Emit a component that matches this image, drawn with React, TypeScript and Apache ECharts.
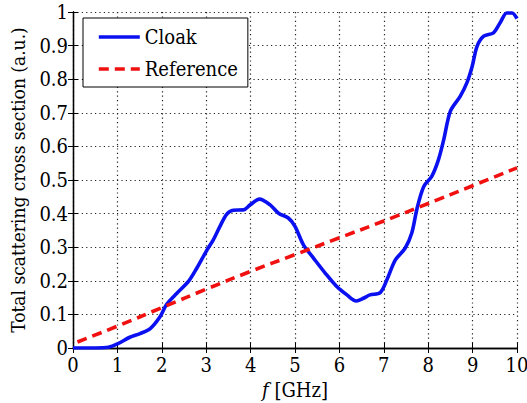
import React, { useEffect, useRef } from "react";
import * as echarts from "echarts";

// Frequency axis (GHz) and cloak scattering response
const cloakFreq = [
  0, 0.5, 0.8, 1.0, 1.28, 1.51, 1.74, 1.96, 2.11, 2.34, 2.6, 2.79, 3.01, 3.16, 3.31, 3.46,
  3.61, 3.84, 3.99, 4.2, 4.44, 4.63, 4.85, 5.0, 5.19, 5.42, 5.68, 5.94, 6.17, 6.38, 6.54,
  6.69, 6.92, 7.07, 7.26, 7.48, 7.63, 7.75, 7.9, 8.08, 8.23, 8.35, 8.5, 8.72, 8.87, 8.99,
  9.1, 9.25, 9.47, 9.62, 9.77, 9.89, 10,
];
const cloakValue = [
  0, 0, 0.002, 0.012, 0.032, 0.043, 0.058, 0.093, 0.13, 0.163, 0.198, 0.238, 0.29, 0.322,
  0.362, 0.398, 0.41, 0.411, 0.426, 0.443, 0.426, 0.401, 0.387, 0.362, 0.307, 0.267, 0.223,
  0.183, 0.158, 0.14, 0.148, 0.158, 0.165, 0.203, 0.262, 0.297, 0.342, 0.416, 0.481, 0.511,
  0.56, 0.62, 0.705, 0.749, 0.789, 0.838, 0.898, 0.928, 0.938, 0.968, 0.997, 0.997, 0.98,
];

// Bare reference object
const refFreq = [0.1, 1, 2, 3, 4, 5, 6, 7, 8, 9, 10];
const refValue = [0.018, 0.065, 0.12, 0.175, 0.228, 0.278, 0.328, 0.378, 0.43, 0.483, 0.536];

const xTicks = { min: 0, max: 10, interval: 1 };
const yTicks = { min: 0, max: 1, interval: 0.1 };

const FONT = "DejaVu Serif Condensed, DejaVu Serif";

export default function App() {
  const ref = useRef<HTMLDivElement>(null);

  useEffect(() => {
    document.body.style.margin = "0";
    if (!ref.current) return;
    const chart = echarts.init(ref.current, undefined, { renderer: "svg" });

    const frame = { show: true, lineStyle: { color: "#000", width: 1.3 } };
    const tick = { show: true, inside: true, length: 5, lineStyle: { color: "#000", width: 1 } };
    const grid = { show: true, lineStyle: { color: "#222", width: 1.2, type: [1.2, 3.2] } };

    chart.setOption({
      animation: false,
      backgroundColor: "#fff",
      textStyle: { fontFamily: FONT, color: "#000" },
      grid: {
        left: 73,
        right: 10,
        top: 12,
        bottom: 55,
        containLabel: false,
        outerBoundsMode: "none",
      },
      legend: {
        orient: "vertical",
        left: 83,
        top: 18,
        padding: [8, 10, 7, 14],
        itemGap: 10,
        itemWidth: 41,
        itemHeight: 14,
        itemStyle: { opacity: 0 },
        lineStyle: { width: 3.6 },
        backgroundColor: "#fff",
        borderColor: "#000",
        borderWidth: 1,
        borderRadius: 0,
        textStyle: { fontFamily: FONT, fontSize: 20, lineHeight: 22, color: "#000" },
        data: ["Cloak", "Reference"],
      },
      xAxis: [
        {
          type: "value",
          ...xTicks,
          position: "bottom",
          axisLine: frame,
          axisTick: tick,
          splitLine: grid,
          axisLabel: { fontFamily: FONT, fontSize: 20, color: "#000", margin: 7 },
          name: "{i|f} [GHz]",
          nameLocation: "middle",
          nameGap: 31,
          nameTextStyle: {
            fontFamily: FONT,
            fontSize: 20,
            color: "#000",
            rich: { i: { fontFamily: FONT, fontSize: 20, fontStyle: "italic", color: "#000" } },
          },
        },
        {
          type: "value",
          ...xTicks,
          position: "top",
          axisLine: frame,
          axisTick: tick,
          splitLine: { show: false },
          axisLabel: { show: false },
        },
      ],
      yAxis: [
        {
          type: "value",
          ...yTicks,
          position: "left",
          axisLine: frame,
          axisTick: tick,
          splitLine: grid,
          axisLabel: { fontFamily: FONT, fontSize: 20, color: "#000", margin: 5 },
          name: "Total scattering cross section (a.u.)",
          nameLocation: "middle",
          nameGap: 46,
          nameRotate: 90,
          nameTextStyle: { fontFamily: FONT, fontSize: 19, color: "#000" },
        },
        {
          type: "value",
          ...yTicks,
          position: "right",
          axisLine: frame,
          axisTick: tick,
          splitLine: { show: false },
          axisLabel: { show: false },
        },
      ],
      series: [
        {
          name: "Cloak",
          type: "line",
          xAxisIndex: 0,
          yAxisIndex: 0,
          data: cloakFreq.map((f, i) => [f, cloakValue[i]]),
          smooth: 0.3,
          symbol: "none",
          clip: true,
          lineStyle: { color: "#0a10f0", width: 3.6 },
          itemStyle: { color: "#0a10f0" },
          z: 3,
        },
        {
          name: "Reference",
          type: "line",
          xAxisIndex: 0,
          yAxisIndex: 0,
          data: refFreq.map((f, i) => [f, refValue[i]]),
          smooth: true,
          symbol: "none",
          clip: true,
          lineStyle: { color: "#f01010", width: 3.6, type: [10, 6] },
          itemStyle: { color: "#f01010" },
          z: 4,
        },
      ],
    });

    return () => chart.dispose();
  }, []);

  return <div ref={ref} style={{ width: 527, height: 403 }} />;
}
